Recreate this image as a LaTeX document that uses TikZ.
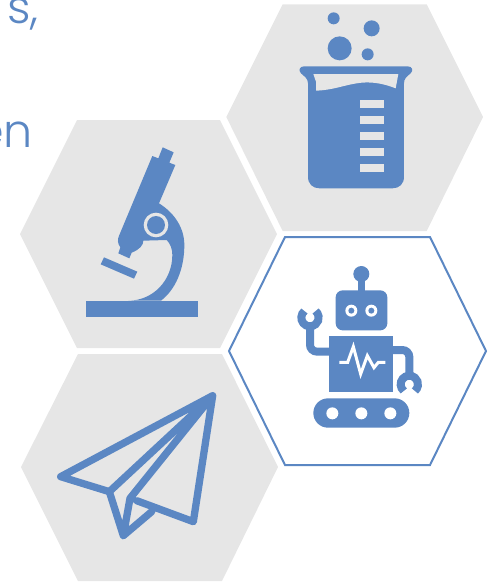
\documentclass[tikz,border=0pt]{standalone}
\usepackage{fontspec}
\setmainfont{Poppins Light}
\definecolor{iconblue}{HTML}{5B87C3}
\definecolor{hexgray}{HTML}{E6E6E6}
\tikzset{
  grayhex/.style={fill=hexgray,draw=none},
  linehex/.style={fill=white,draw=iconblue,line width=2pt,line join=miter},
  icon/.style={fill=iconblue,draw=none},
  zoomed/.style={xscale=1/3,yscale=-1/3},
  captiontext/.style={text=iconblue,inner sep=0pt,font=\fontsize{46}{50}\selectfont}
}
\begin{document}
\begin{tikzpicture}[x=1pt,y=1pt]
\useasboundingbox (0,-582) rectangle (493,0);
% hexagons
\fill[grayhex] (282.7,-4.3) -- (426.7,-4.3) -- (483,-117) -- (426.7,-231) -- (282.7,-231) -- (226.3,-117) -- cycle;
\fill[grayhex] (77,-120) -- (220,-120) -- (277,-234) -- (220,-348) -- (77,-348) -- (20,-234) -- cycle;
\fill[grayhex] (78,-354) -- (222,-354) -- (278,-467) -- (222,-581) -- (78,-581) -- (21,-467) -- cycle;
\draw[linehex] (285,-237) -- (430,-237) -- (486,-351) -- (430,-465) -- (285,-465) -- (229,-351) -- cycle;
% text fragments
\node[captiontext,anchor=base east] (tone) at (39,-23) {s,};
\node[captiontext,anchor=base east] (ttwo) at (33,-147) {en};
% beaker
\begin{scope}[shift={(220,0)},zoomed]
\fill[icon] (341,55) circle[radius=18];
\fill[icon] (455,85) circle[radius=24];
\fill[icon] (359,145) circle[radius=36];
\fill[icon] (443,163) circle[radius=18];
\fill[icon] (252,199) -- (563,199) .. controls (578,199) and (580,212) .. (572,220)
  .. controls (560,230) and (552,236) .. (552,250) -- (552,530)
  .. controls (552,552) and (538,565) .. (517,565) -- (299,565)
  .. controls (278,565) and (264,552) .. (264,530) -- (264,250)
  .. controls (264,236) and (254,230) .. (243,220) .. controls (235,212) and (238,199) .. (252,199) -- cycle;
\fill[hexgray] (280,222) -- (535,222) -- (527,265) .. controls (490,250) and (450,243) .. (410,250)
  .. controls (370,256) and (340,270) .. (288,272) -- (288,245) -- cycle;
\foreach \yy in {301,349,397,445,493}
  \fill[hexgray] (419,\yy) rectangle (491,\yy+24);
\end{scope}
% microscope
\begin{scope}[shift={(60,-130)},zoomed]
\fill[icon] (78,512) rectangle (415,560);
\fill[icon] (132,382) -- (232,425) -- (222,446) -- (122,403) -- cycle;
\fill[icon] (308,52) -- (341,67) -- (328,98) -- (346,105) -- (297,220)
  .. controls (345,250) and (373,295) .. (373,345)
  .. controls (373,420) and (345,480) .. (303,512) -- (205,512)
  .. controls (280,512) and (337,450) .. (337,375)
  .. controls (337,358) and (332,342) .. (320,330) -- (250,332)
  .. controls (250,345) and (240,358) .. (215,368) -- (208,385) -- (175,370) -- (181,352)
  .. controls (172,340) and (172,328) .. (178,315) -- (277,78) -- (295,85) -- cycle;
\fill[hexgray] (288,285) circle[radius=37];
\fill[icon] (288,285) circle[radius=27];
\end{scope}
% robot
\begin{scope}[shift={(280,-250)},zoomed]
\fill[icon] (244,72) circle[radius=24];
\fill[icon] (235,72) rectangle (254,125);
\fill[icon,rounded corners=7pt] (167,121) rectangle (322,241);
\foreach \xx in {214,274}{
  \fill[white] (\xx,182) circle[radius=18];
  \fill[icon] (\xx,182) circle[radius=9];
}
\fill[icon] (148,259) rectangle (340,427);
\draw[white,line width=3pt,line join=miter] (178,337) -- (203,337) -- (220,290) -- (242,372) -- (262,317) -- (282,353) -- (295,337) -- (316,337);
\draw[iconblue,line width=8pt,rounded corners=7pt] (150,305) -- (90,305) -- (90,225);
\draw[iconblue,line width=8pt] (90,203)+(230:26) arc[start angle=230,end angle=-50,radius=26];
\draw[iconblue,line width=8pt,rounded corners=7pt] (338,300) -- (388,300) -- (388,380);
\draw[iconblue,line width=8pt] (388,403)+(130:26) arc[start angle=130,end angle=410,radius=26];
\fill[icon,rounded corners=14.6pt] (100,445) rectangle (388,533);
\foreach \xx in {157,244,331}
  \fill[white] (\xx,490) circle[radius=18];
\end{scope}
% paper plane
\begin{scope}[shift={(40,-380)},zoomed]
\draw[iconblue,line width=7.3pt,line join=round,line cap=round]
  (518,47) -- (62,290) -- (208,335) -- cycle
  (208,335) -- (250,467) -- (335,395)
  (290,362) -- (460,425) -- (518,47)
  (518,47) -- (270,355) -- (250,467);
\end{scope}
\end{tikzpicture}
\end{document}
